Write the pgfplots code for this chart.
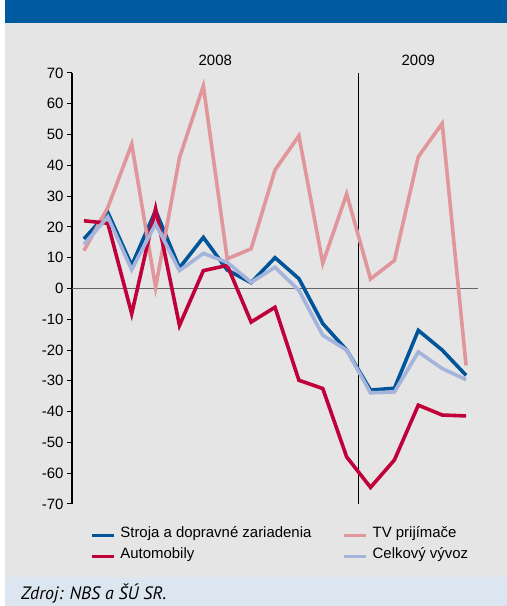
\documentclass[border=0pt]{standalone}
\usepackage{fontspec}
\setmainfont{Liberation Sans}
\newfontfamily\srcfont{PT Sans}
\usepackage{pgfplots}
\pgfplotsset{compat=1.18}

\definecolor{hdrblue}{HTML}{005AA0}
\definecolor{panel}{HTML}{E5E5E5}
\definecolor{footbg}{HTML}{DCE6F0}
\definecolor{cStroja}{HTML}{00559A}
\definecolor{cAuto}{HTML}{C0003A}
\definecolor{cTV}{HTML}{E0969B}
\definecolor{cTotal}{HTML}{A5B4DB}

\begin{document}
\begin{tikzpicture}[x=1bp,y=1bp]
\useasboundingbox (0,0) rectangle (507,606);
% background bands
\fill[white] (0,0) rectangle (507,606);
\fill[hdrblue] (5,583) rectangle (507,606);
\fill[panel] (5,29) rectangle (507,583);
\fill[footbg] (5,0) rectangle (507,29);
\node[anchor=base west, font=\srcfont\itshape\fontsize{18}{20}\selectfont, inner sep=0]
  at (21,6) {Zdroj: NBS a ŠÚ SR.};

\begin{axis}[
    at={(72bp,102bp)}, anchor=south west,
    scale only axis, width=406bp, height=431bp,
    xmin=-0.5, xmax=16.5, ymin=-70, ymax=70,
    axis y line*=left, axis x line=none,
    ytick={-70,-60,...,70},
    tick align=outside, major tick length=5bp,
    y axis line style={line width=1.2bp},
    every tick/.style={black, line width=1bp},
    tick label style={font=\fontsize{15}{17}\selectfont},
    /pgf/number format/assume math mode=true,
    clip=false,
    every axis plot/.append style={line width=3.6bp, mark=none},
    legend columns=2,
    legend cell align=left,
    legend image code/.code={\draw[#1, line width=3.2bp] (0bp,0bp) -- (22bp,0bp);},
    legend style={at={(0.0443,-0.058)}, anchor=north west, draw=none, fill=none,
      inner sep=0pt, font=\fontsize{15}{17}\selectfont,
      nodes={inner sep=1bp, text height=0.75em, text depth=0.25em},
      row sep=9bp,
      /tikz/every odd column/.append style={column sep=4bp},
      /tikz/every even column/.append style={column sep=30bp}},
  ]
\draw[black!60, line width=1.3bp] (axis cs:-0.5,0) -- (axis cs:16.5,0);
\draw[black, line width=0.9bp] (axis cs:11.5,70) -- (axis cs:11.5,-70);

\addplot[cStroja] coordinates {
  (0,16.1) (1,24.7) (2,7.5) (3,25.3) (4,6.7) (5,16.6) (6,6.0) (7,1.9)
  (8,10.0) (9,3.2) (10,-11.4) (11,-20.0) (12,-33.0) (13,-32.4) (14,-13.6)
  (15,-20.0) (16,-28.2)};
\addlegendentry{Stroja a dopravné zariadenia}
\addplot[cTV] coordinates {
  (0,12.3) (1,26.3) (2,46.9) (3,0.4) (4,42.5) (5,65.8) (6,9.6) (7,12.9)
  (8,38.5) (9,49.6) (10,8.2) (11,30.7) (12,3.1) (13,9.1) (14,42.8)
  (15,53.6) (16,-25.0)};
\addlegendentry{TV prijímače}
\addplot[cAuto] coordinates {
  (0,22.0) (1,21.2) (2,-8.2) (3,25.9) (4,-12.0) (5,5.8) (6,7.5) (7,-10.9)
  (8,-6.1) (9,-29.8) (10,-32.5) (11,-54.7) (12,-64.6) (13,-55.7) (14,-37.9)
  (15,-41.1) (16,-41.4)};
\addlegendentry{Automobily}
\addplot[cTotal] coordinates {
  (0,14.3) (1,23.3) (2,6.1) (3,21.0) (4,5.8) (5,11.4) (6,8.5) (7,2.0)
  (8,6.9) (9,-0.6) (10,-15.2) (11,-20.0) (12,-33.9) (13,-33.6) (14,-20.6)
  (15,-26.0) (16,-29.6)};
\addlegendentry{Celkový vývoz}

\node[font=\fontsize{15}{17}\selectfont] at (axis cs:5.5,74.2) {2008};
\node[font=\fontsize{15}{17}\selectfont] at (axis cs:14,74.2) {2009};
\end{axis}
\end{tikzpicture}
\end{document}
